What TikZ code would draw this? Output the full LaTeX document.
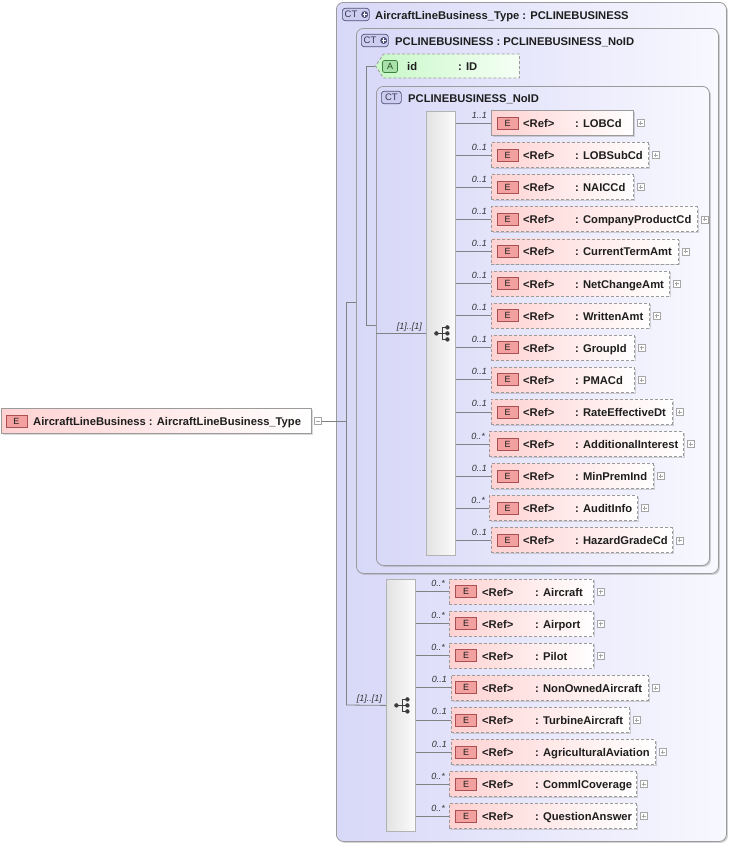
\documentclass[tikz,border=0pt]{standalone}
\usepackage{fontspec}
\setmainfont{Liberation Sans}
\usetikzlibrary{shapes.symbols,calc,shadows}
\definecolor{txt}{RGB}{30,30,30}
\definecolor{bord}{RGB}{155,155,155}
\definecolor{pinkL}{RGB}{255,210,210}
\definecolor{lavL}{RGB}{216,216,248}
\definecolor{lavR}{RGB}{248,248,255}
\definecolor{ebF}{RGB}{242,160,160}
\definecolor{ebD}{RGB}{170,80,80}
\definecolor{grnL}{RGB}{200,248,200}
\definecolor{abF}{RGB}{170,225,170}
\definecolor{abD}{RGB}{60,130,60}
\definecolor{ctF}{RGB}{205,205,240}
\definecolor{ctD}{RGB}{80,80,120}
\definecolor{seqc}{RGB}{60,60,60}
\definecolor{connc}{RGB}{130,130,130}
\tikzset{
  conn/.style={draw=connc, line width=0.8pt},
  cont/.style={draw=bord, left color=lavL, right color=lavR, rounded corners=7pt, line width=0.8pt, inner sep=0pt,
    drop shadow={shadow xshift=1.5pt, shadow yshift=-1.5pt, fill=gray, opacity=0.35}},
  elbox/.style={draw=bord, left color=pinkL, right color=white, minimum height=25pt, inner sep=0pt, line width=0.8pt,
    drop shadow={shadow xshift=1.2pt, shadow yshift=-1.2pt, fill=gray, opacity=0.3}},
  reqbox/.style={elbox},
  optbox/.style={elbox, dash pattern=on 3pt off 2pt},
  ebadge/.style={draw=ebD, fill=ebF, minimum width=21pt, minimum height=12pt, inner sep=0pt, line width=0.7pt,
    font=\fontsize{9}{9}\selectfont, text=txt},
  eltxt/.style={font=\fontsize{11.2}{13}\selectfont\bfseries, text=txt, inner sep=0pt},
  mult/.style={font=\fontsize{9}{10}\selectfont\itshape, text=black!80, inner sep=0pt},
  plusbox/.style={draw=gray!70, fill=white, minimum size=7pt, inner sep=0pt, line width=0.5pt,
    path picture={\draw[gray!70, line width=0.6pt] ([xshift=1.5pt]path picture bounding box.west) -- ([xshift=-1.5pt]path picture bounding box.east)
      ([yshift=-1.5pt]path picture bounding box.north) -- ([yshift=1.5pt]path picture bounding box.south);}},
  minusbox/.style={draw=gray!70, fill=white, minimum size=7pt, inner sep=0pt, line width=0.5pt,
    path picture={\draw[gray!70, line width=0.6pt] ([xshift=1.5pt]path picture bounding box.west) -- ([xshift=-1.5pt]path picture bounding box.east);}},
  seqbar/.style={draw=gray!60, left color=gray!22, right color=gray!3, inner sep=0pt, line width=0.8pt},
  ctbadge/.style={draw=ctD, fill=ctF, rounded corners=3pt, inner sep=0pt, minimum height=12.5pt, line width=0.7pt},
  cttxt/.style={font=\fontsize{9.5}{10}\selectfont, text=ctD!70!black, inner sep=0pt},
  attrsh/.style={draw=bord, dash pattern=on 3pt off 2pt, left color=grnL, right color=white!96!green, line width=0.8pt,
    signal, signal to=west, signal pointer angle=112, minimum width=144pt, minimum height=24pt, inner sep=0pt},
  abadge/.style={draw=abD, fill=abF, rounded corners=2pt, minimum width=15pt, minimum height=12pt, inner sep=0pt, line width=0.7pt,
    font=\fontsize{9}{9}\selectfont, text=abD!60!black},
  seqdot/.style={circle, fill=seqc, inner sep=0pt, minimum size=4.4pt},
  ctplus/.style={circle, fill=ctD, inner sep=0pt, minimum size=7pt,
    path picture={\draw[white, line width=1.1pt] ([xshift=1.3pt]path picture bounding box.west) -- ([xshift=-1.3pt]path picture bounding box.east)
      ([yshift=-1.3pt]path picture bounding box.north) -- ([yshift=1.3pt]path picture bounding box.south);}}
}
% #1 id, #2 y center, #3 left, #4 right, #5 name, #6 multiplicity, #7 style, #8 bar
\newcommand\elrow[8]{%
  \node[#7, anchor=west, minimum width={(#4-#3)*1pt}] (#1) at (#3,#2) {};
  \node[ebadge] (#1b) at (\bdx,#2) {E};
  \node[eltxt, anchor=base west] (#1r) at (\refx,#2+4.5) {<Ref>};
  \node[eltxt, anchor=base west] (#1n) at (\namex,#2+4.5) {: #5};
  \node[plusbox, anchor=west] (#1p) at ([xshift=3pt]#1.east) {};
  \node[mult, anchor=base east] (#1m) at ($(#1.west)+(-4,-5)$) {#6};
  \draw[conn] (#1.west -| #8.east) -- (#1.west);
}
\newcommand\seqsym[2]{%
  \begin{scope}[shift={(#1.center)}]
    \draw[seqc, line width=1pt] (-4.5,0) -- (1.5,0) (1.5,-6) -- (1.5,6) (1.5,-6) -- (6.5,-6) (1.5,6) -- (6.5,6) (1.5,0) -- (6.5,0);
    \node[seqdot] (#2a) at (-4.5,0) {};
    \node[seqdot] (#2b) at (6.5,-6) {};
    \node[seqdot] (#2c) at (6.5,0) {};
    \node[seqdot] (#2d) at (6.5,6) {};
  \end{scope}
}
\begin{document}
\begin{tikzpicture}[x=1pt,y=-1pt]
\useasboundingbox (0,0) rectangle (731,844);
% containers
\node[cont, anchor=north west, minimum width=390pt, minimum height=839pt] (outer) at (336,2) {};
\node[cont, anchor=north west, minimum width=362pt, minimum height=545pt] (pcl) at (356,28) {};
\node[cont, anchor=north west, minimum width=333pt, minimum height=479pt] (noid) at (376,86) {};
% headers
\node[ctbadge, anchor=west, minimum width=27pt] (ctb1) at (342,14.5) {};
\node[cttxt, anchor=west] (ctt1) at ([xshift=2.5pt]ctb1.west) {CT};
\node[ctplus] (ctp1) at ([xshift=-5pt]ctb1.east) {};
\node[eltxt, anchor=base west] (h1) at (375,19) {AircraftLineBusiness\_Type : PCLINEBUSINESS};
\node[ctbadge, anchor=west, minimum width=27pt] (ctb2) at (361,40.5) {};
\node[cttxt, anchor=west] (ctt2) at ([xshift=2.5pt]ctb2.west) {CT};
\node[ctplus] (ctp2) at ([xshift=-5pt]ctb2.east) {};
\node[eltxt, anchor=base west] (h2) at (395,45) {PCLINEBUSINESS : PCLINEBUSINESS\_NoID};
\node[ctbadge, anchor=west, minimum width=20pt] (ctb3) at (381,97.5) {};
\node[cttxt] (ctt3) at (ctb3.center) {CT};
\node[eltxt, anchor=base west] (h3) at (408,102) {PCLINEBUSINESS\_NoID};
% attribute
\node[attrsh, anchor=west] (attr) at (375,66) {};
\node[abadge] (ab) at (390,66.5) {A};
\node[eltxt, anchor=base west] (attrn) at (407,70.5) {id};
\node[eltxt, anchor=base west] (attrt) at (458,70.5) {: ID};
% main element
\node[reqbox, anchor=north west, minimum width=310pt] (main) at (1,408) {};
\node[ebadge] (mainb) at (16.5,421) {E};
\node[eltxt, anchor=base west] (mainn) at (33,425) {AircraftLineBusiness : AircraftLineBusiness\_Type};
\node[minusbox, anchor=west] (mainm) at ([xshift=2pt]main.east) {};
% sequence bars
\node[seqbar, anchor=north west, minimum width=29pt, minimum height=444pt] (bar1) at (426,111) {};
\node[seqbar, anchor=north west, minimum width=29pt, minimum height=252pt] (bar2) at (386,579) {};
\seqsym{bar1}{s1}
\seqsym{bar2}{s2}
% structural connectors
\coordinate (jA) at (346,302);
\coordinate (jB) at (346,705);
\coordinate (jC) at (366,66);
\coordinate (jD) at (366,325);
\draw[conn] (mainm.east) -- (mainm.east -| jA);
\draw[conn] (jA) -- (jB);
\draw[conn] (jA) -- (jA -| pcl.west);
\draw[conn] (jB) -- (bar2.west);
\draw[conn] (jC) -- (jD);
\draw[conn] (jC) -- (attr.west);
\draw[conn] (jD) -- (jD -| noid.west);
\draw[conn] (bar1.west -| noid.west) -- (bar1.west);
\node[mult, anchor=base east] (bm1) at ($(bar1.west)+(-4,-4)$) {[1]..[1]};
\node[mult, anchor=base east] (bm2) at ($(bar2.west)+(-4,-4)$) {[1]..[1]};
% group 1
\def\bdx{507.5}\def\refx{523}\def\namex{575}
\elrow{lobcd}{123.0}{491}{633}{LOBCd}{1..1}{reqbox}{bar1}
\elrow{lobsub}{155.1}{491}{648}{LOBSubCd}{0..1}{optbox}{bar1}
\elrow{naic}{187.2}{491}{633}{NAICCd}{0..1}{optbox}{bar1}
\elrow{cpc}{219.3}{491}{697}{CompanyProductCd}{0..1}{optbox}{bar1}
\elrow{cta}{251.4}{491}{678}{CurrentTermAmt}{0..1}{optbox}{bar1}
\elrow{nca}{283.5}{491}{669}{NetChangeAmt}{0..1}{optbox}{bar1}
\elrow{wa}{315.6}{491}{649}{WrittenAmt}{0..1}{optbox}{bar1}
\elrow{gid}{347.7}{491}{634}{GroupId}{0..1}{optbox}{bar1}
\elrow{pma}{379.8}{491}{634}{PMACd}{0..1}{optbox}{bar1}
\elrow{red}{411.9}{491}{672}{RateEffectiveDt}{0..1}{optbox}{bar1}
\elrow{ai}{444.0}{489}{683}{AdditionalInterest}{0..*}{optbox}{bar1}
\elrow{mpi}{476.1}{491}{653}{MinPremInd}{0..1}{optbox}{bar1}
\elrow{aud}{508.2}{489}{637}{AuditInfo}{0..*}{optbox}{bar1}
\elrow{hgc}{540.3}{491}{672}{HazardGradeCd}{0..1}{optbox}{bar1}
% group 2
\def\bdx{466}\def\refx{482}\def\namex{535}
\elrow{acft}{591.5}{449}{593}{Aircraft}{0..*}{optbox}{bar2}
\elrow{aprt}{623.6}{449}{593}{Airport}{0..*}{optbox}{bar2}
\elrow{pil}{655.7}{449}{593}{Pilot}{0..*}{optbox}{bar2}
\elrow{noa}{687.8}{451}{648}{NonOwnedAircraft}{0..1}{optbox}{bar2}
\elrow{tba}{719.9}{451}{629}{TurbineAircraft}{0..1}{optbox}{bar2}
\elrow{agr}{752.0}{451}{655}{AgriculturalAviation}{0..1}{optbox}{bar2}
\elrow{cml}{784.1}{449}{636}{CommlCoverage}{0..*}{optbox}{bar2}
\elrow{qa}{816.2}{449}{636}{QuestionAnswer}{0..*}{optbox}{bar2}
\end{tikzpicture}
\end{document}
